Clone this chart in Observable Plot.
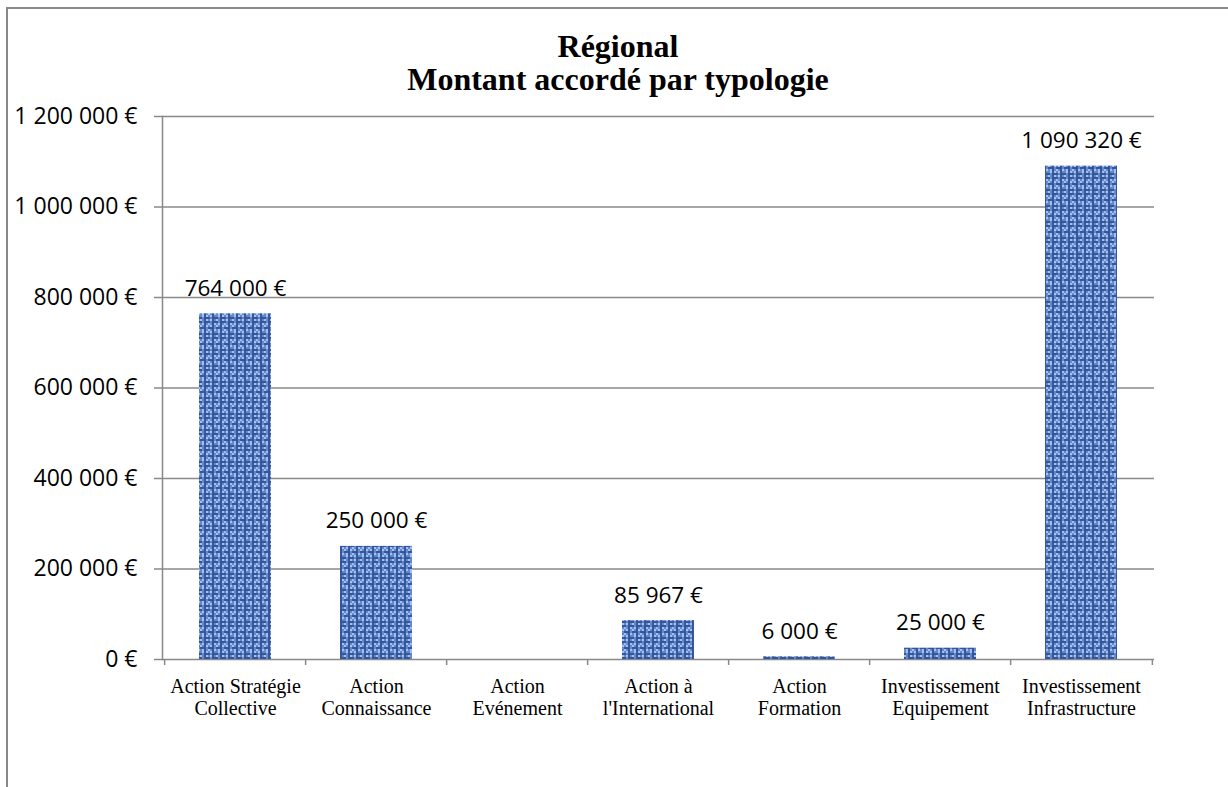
<!DOCTYPE html>
<html><head><meta charset="utf-8">
<script src="https://cdn.jsdelivr.net/npm/d3@7"></script>
<script src="https://cdn.jsdelivr.net/npm/@observablehq/plot@0.6"></script>
<style>
html,body{margin:0;padding:0;background:#fff;overflow:hidden;}
#wrap{position:relative;width:1228px;height:787px;overflow:hidden;}
#frame{position:absolute;left:6px;top:7px;width:1300px;height:900px;border:2px solid #898989;box-sizing:border-box;}
#title{position:absolute;left:0;top:30px;width:1236px;text-align:center;font-family:"Liberation Serif",serif;font-weight:bold;font-size:32px;line-height:33px;color:#000;}
#chart{position:absolute;left:0;top:95px;}
</style></head>
<body>
<div id="wrap">
  <div id="frame"></div>
  <div id="title">Régional<br>Montant accordé par typologie</div>
  <div id="chart"></div>
</div>
<script>
const categories = ["Action Stratégie Collective","Action Connaissance","Action Evénement","Action à l'International","Action Formation","Investissement Equipement","Investissement Infrastructure"];
const tickLabels = ["Action Stratégie\nCollective","Action\nConnaissance","Action\nEvénement","Action à\nl'International","Action\nFormation","Investissement\nEquipement","Investissement\nInfrastructure"];
const values = [764000, 250000, 0, 85967, 6000, 25000, 1090320];
const yTicks = [0, 200000, 400000, 600000, 800000, 1000000, 1200000];

const W = 1228, H = 692, ml = 162, mr = 74, mt = 21, mb = 128;
const step = (W - ml - mr) / categories.length;
const loc = d3.formatLocale({decimal: ",", thousands: " ", grouping: [3], currency: ["", ""]});
const grp = loc.format(",");
const fmt = v => grp(v) + " €";
const data = categories.map((c, i) => ({category: c, value: values[i]}));

// woven texture tile (styling only)
const tile = [
  "mldmlmdl",
  "dmdddmdd",
  "lmdlmldm",
  "mldmlmdl",
  "dddmdddm",
  "lmdlmldm",
  "mldmmldl",
  "dmdddmdd"
];
const tileColors = {d: "#34569a", m: "#6588cb", l: "#a4c0ee"};
function defs() {
  const s = d3.create("svg:defs");
  const cell = 2;
  const p = s.append("pattern").attr("id", "weave").attr("patternUnits", "userSpaceOnUse")
    .attr("width", cell * 8).attr("height", cell * 8);
  tile.forEach((row, r) => row.split("").forEach((ch, c) => {
    p.append("rect").attr("x", c * cell).attr("y", r * cell).attr("width", cell).attr("height", cell).attr("fill", tileColors[ch]);
  }));
  return s.node();
}

const gray = "#898989";
const chart = Plot.plot({
  width: W, height: H,
  marginLeft: ml, marginRight: mr, marginTop: mt, marginBottom: mb,
  style: {background: "transparent", overflow: "visible"},
  x: {domain: categories, paddingInner: 0.49, paddingOuter: 0.245},
  y: {domain: [0, 1200000]},
  marks: [
    defs,
    Plot.ruleY(yTicks, {stroke: gray, strokeWidth: 1.5}),
    Plot.frame({anchor: "left", stroke: gray, strokeWidth: 1.5}),
    Plot.axisY({ticks: yTicks, tickFormat: fmt, tickSize: 8, tickPadding: 17, stroke: gray, strokeWidth: 1.5, fill: "black", fontFamily: "Open Sans", fontSize: 23, label: null}),
    Plot.axisX({tickSize: 0, tickPadding: 18, tickFormat: d => tickLabels[categories.indexOf(d)], fontFamily: "Liberation Serif", fontSize: 20, lineHeight: 1.1, fill: "black", label: null}),
    Plot.axisX({tickSize: 6, tickFormat: () => "", dx: -step / 2, stroke: gray, strokeWidth: 1.5, label: null}),
    Plot.axisX(categories.slice(-1), {tickSize: 6, tickFormat: () => "", dx: step / 2, stroke: gray, strokeWidth: 1.5, label: null}),
    Plot.barY(data, {x: "category", y: "value", fill: "url(#weave)"}),
    Plot.text(data.filter(d => d.value > 0), {x: "category", y: "value", text: d => fmt(d.value), lineAnchor: "bottom", dy: -18, fontFamily: "Open Sans", fontSize: 22.5, fill: "black"})
  ]
});
document.getElementById("chart").appendChild(chart);
</script>
</body></html>
